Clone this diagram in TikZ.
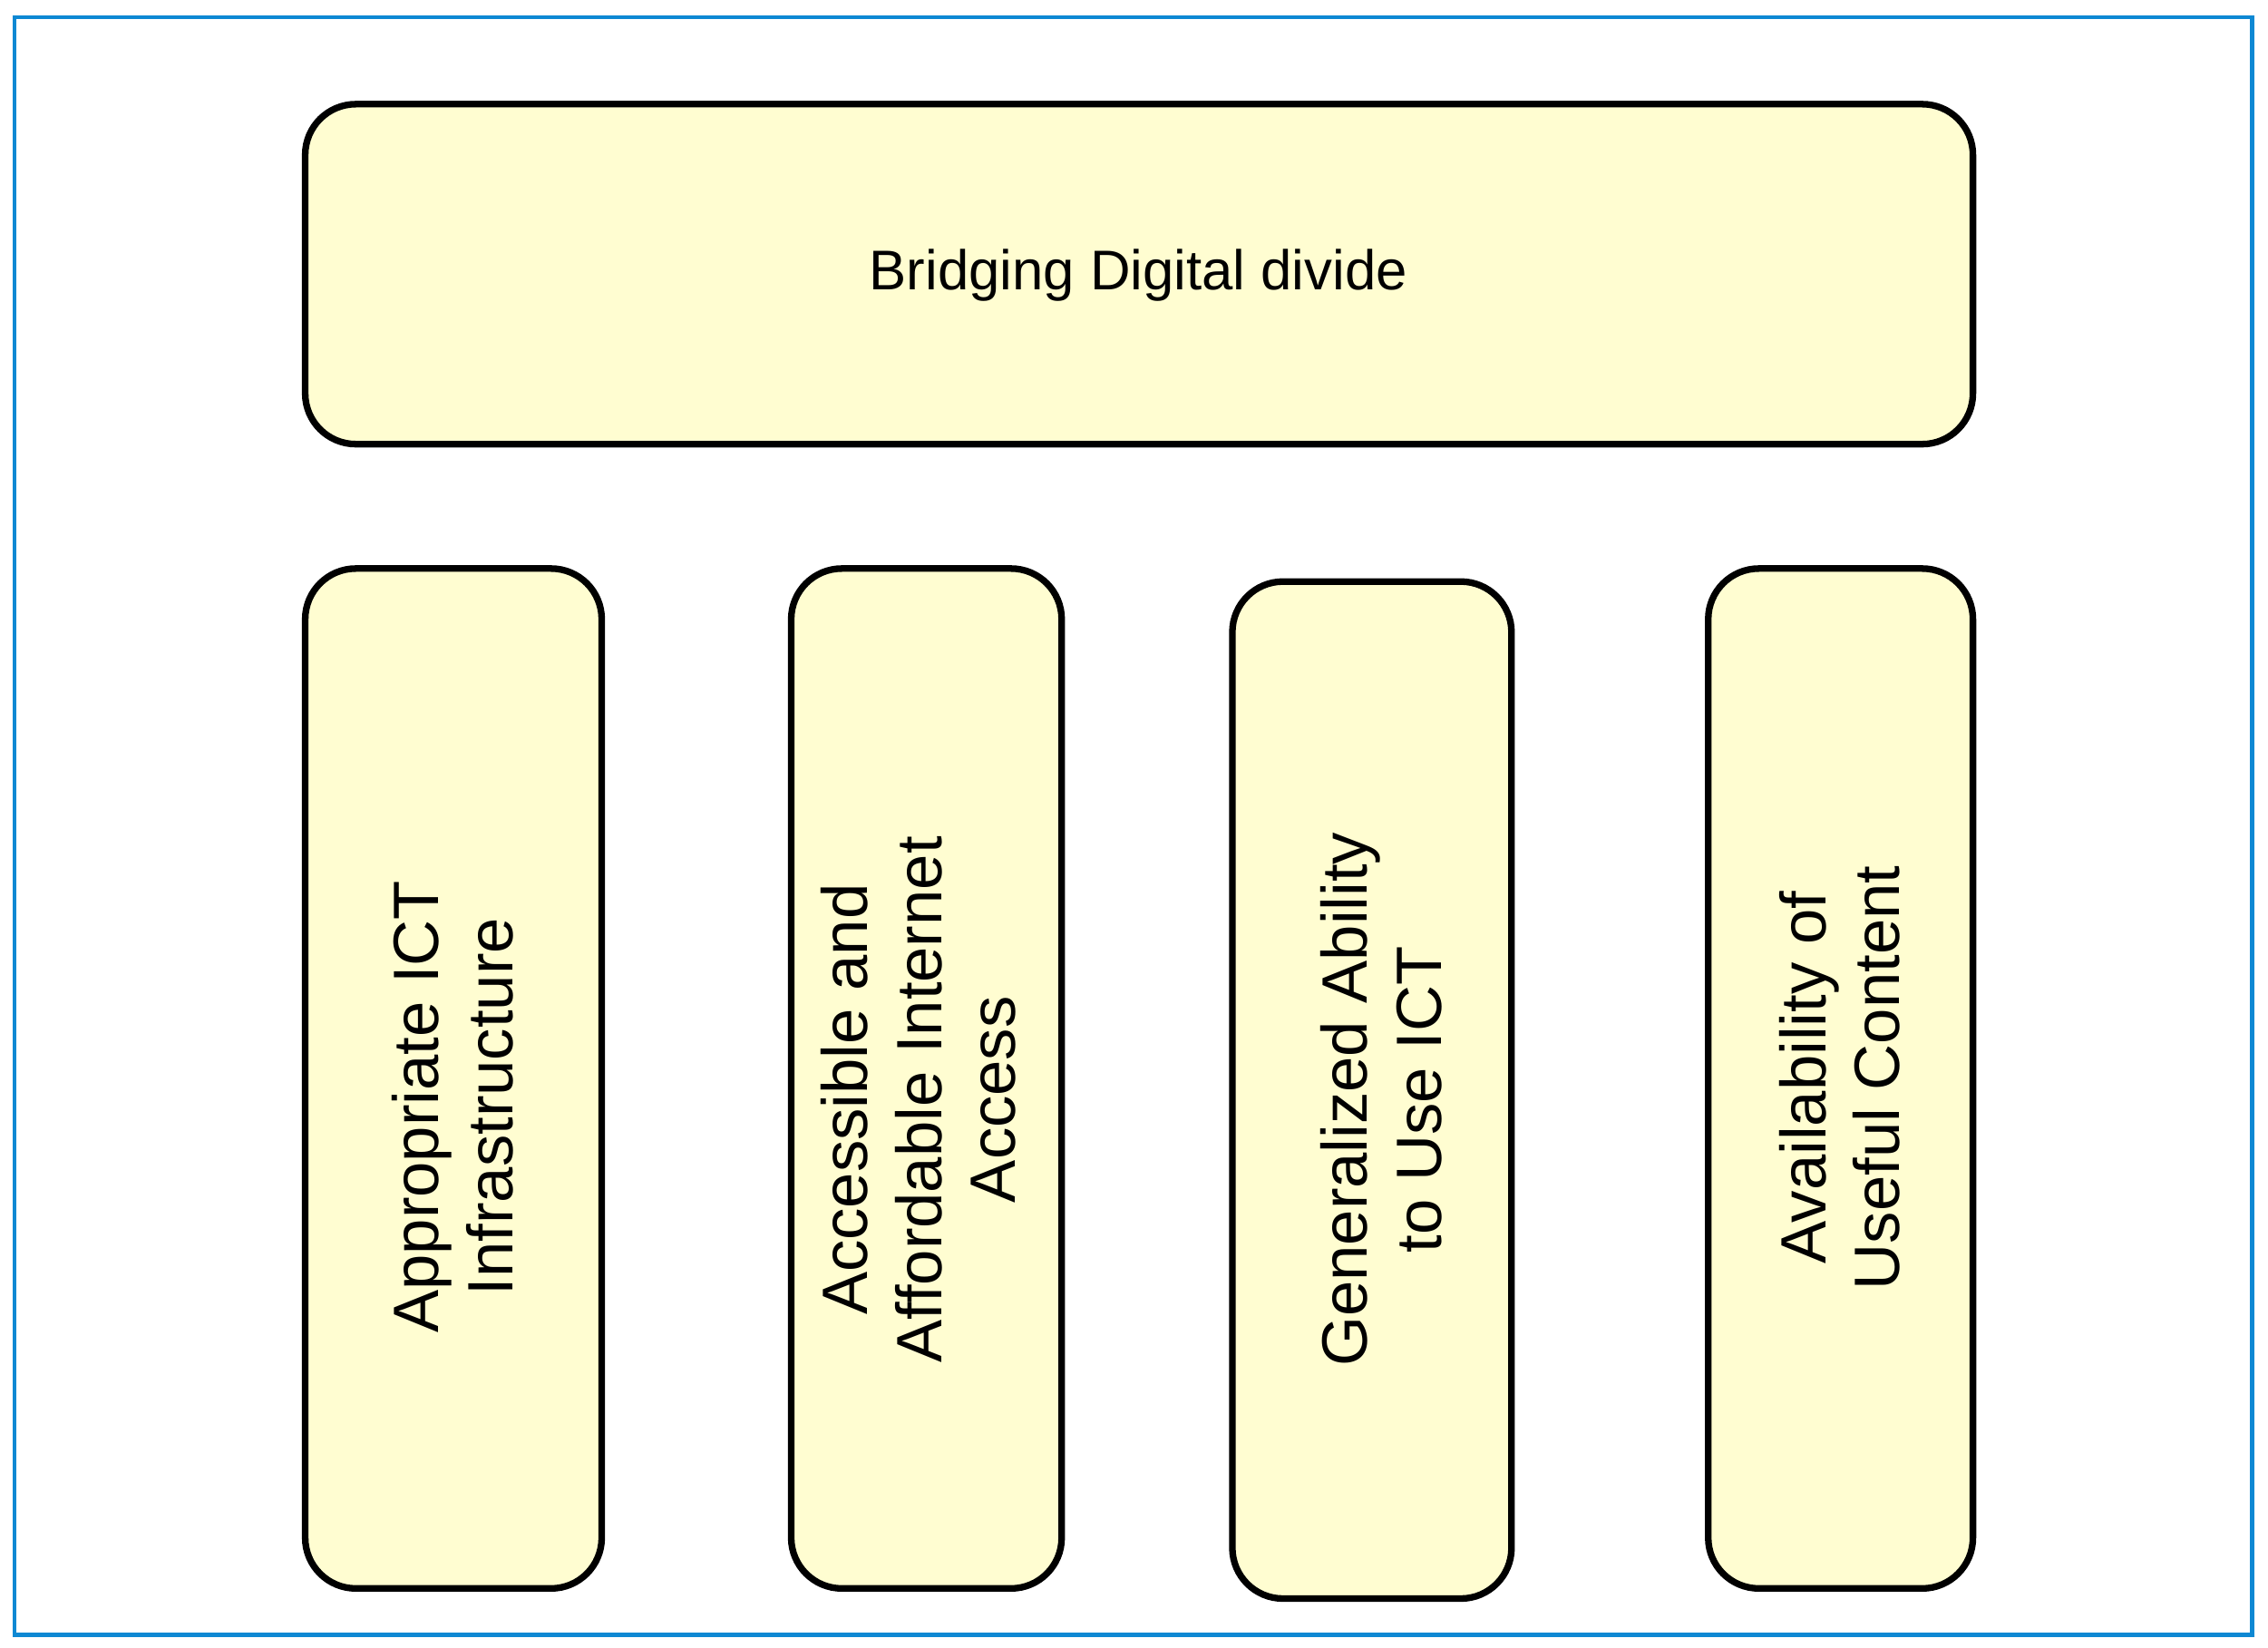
\documentclass[tikz,border=0pt]{standalone}
\usepackage{fontspec}
\setmainfont{Liberation Sans}
\begin{document}
\begin{tikzpicture}[x=0.01cm,y=-0.01cm,
  box/.style={draw=black,line width=1.3pt,fill=yellow!18!white,rounded corners=0.35cm},
  lbl/.style={rotate=90,align=center,font=\fontsize{12.6}{14.5}\selectfont}]
\useasboundingbox (0,0) rectangle (1568,1139);
\draw[draw=cyan!70!blue,line width=0.8pt] (10,12) rectangle (1557,1130);
\draw[box] (211,72) rectangle (1364,307);
\node[font=\fontsize{11}{13}\selectfont] (top) at (787,190) {Bridging Digital divide};
\draw[box] (211,393) rectangle (416,1098);
\draw[box] (547,393) rectangle (734,1098);
\draw[box] (852,402) rectangle (1045,1105);
\draw[box] (1181,393) rectangle (1364,1098);
\node[lbl] (a) at (313,765) {Appropriate ICT\\Infrastructure};
\node[lbl] (b) at (635,760) {Accessible and\\Affordable Internet\\Access};
\node[lbl] (c) at (955,760) {Generalized Ability\\to Use ICT};
\node[lbl] (d) at (1272,745) {Availability of\\Useful Content};
\end{tikzpicture}
\end{document}
